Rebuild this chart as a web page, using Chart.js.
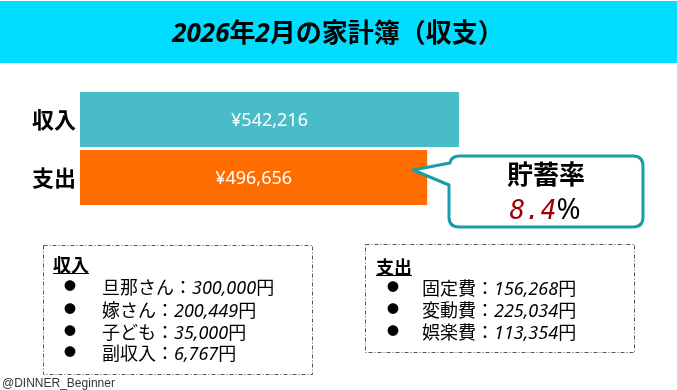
<!DOCTYPE html>
<html><head><meta charset="utf-8">
<script src="https://cdn.jsdelivr.net/npm/chart.js@4.4.1/dist/chart.umd.min.js"></script>
<style>
html,body{margin:0;padding:0;background:#fff;}
#wrap{position:relative;width:677px;height:390px;overflow:hidden;font-family:"Noto Sans","Noto Sans CJK JP",sans-serif;}
#band{position:absolute;left:0;top:1px;width:677px;height:62px;background:#00DDFF;}
canvas{position:absolute;left:0;top:0;}
#overlay{position:absolute;left:0;top:0;}
.t{position:absolute;white-space:nowrap;line-height:1;color:#000;}
</style></head><body>
<div id="wrap">
<div id="band"></div>
<canvas id="c" width="677" height="390"></canvas>
<svg id="overlay" width="677" height="390" xmlns="http://www.w3.org/2000/svg">
  <rect x="43.5" y="245.5" width="269" height="129" fill="none" stroke="#555" stroke-width="1" stroke-dasharray="4,2,1,2"/>
  <rect x="365.5" y="244.5" width="269" height="108" fill="none" stroke="#555" stroke-width="1" stroke-dasharray="4,2,1,2"/>
  <path d="M413,170 L450,163 Q451,156 460,156 L633,156 Q643,156 643,166 L643,217 Q643,227 633,227 L459,227 Q449,227 449,217 L449,185 Z" fill="#fff" stroke="#179EA8" stroke-width="3" stroke-linejoin="round"/>
</svg>
<div id="texts"></div>
</div>
<script>
const titleText = ['2026', '年', '2', '月の家計簿（収支）'];
const categories = ['収入', '支出'];
const totals = [542216, 496656];
const incomeLabels = ['旦那さん', '嫁さん', '子ども', '副収入'];
const incomeValues = [300000, 200449, 35000, 6767];
const expenseLabels = ['固定費', '変動費', '娯楽費'];
const expenseValues = [156268, 225034, 113354];
const savingsRate = '8.4';
const footerText = '@DINNER_Beginner';

const barColors = ['#48BCC7', '#FF6D00'];

const valueLabelPlugin = {
  id: 'valueLabels',
  afterDatasetsDraw(chart) {
    const ctx = chart.ctx;
    const meta = chart.getDatasetMeta(0);
    ctx.save();
    ctx.font = '18px "Noto Sans","Noto Sans CJK JP",sans-serif';
    ctx.fillStyle = '#fff';
    ctx.textAlign = 'center';
    ctx.textBaseline = 'middle';
    meta.data.forEach((bar, i) => {
      const x = (bar.base + bar.x) / 2;
      ctx.fillText('¥' + totals[i].toLocaleString('en-US'), x, bar.y + 1);
    });
    ctx.restore();
  }
};

new Chart(document.getElementById('c'), {
  type: 'bar',
  data: {
    labels: categories,
    datasets: [{
      data: totals,
      backgroundColor: barColors,
      borderWidth: 0,
      categoryPercentage: 1,
      barPercentage: 0.948
    }]
  },
  options: {
    indexAxis: 'y',
    responsive: false,
    animation: false,
    devicePixelRatio: 1,
    layout: { padding: { top: 90.5, bottom: 183.5, left: 0, right: 177.6 } },
    plugins: { legend: { display: false }, tooltip: { enabled: false }, title: { display: false } },
    scales: {
      x: { display: false, min: 0, max: 600000 },
      y: {
        grid: { display: false, drawTicks: false },
        border: { display: false },
        ticks: { color: '#000', padding: 4, font: { family: '"Noto Sans CJK JP","Noto Sans",sans-serif', size: 22, weight: 'bold' } },
        afterFit(scale) { scale.width = 80; }
      }
    }
  },
  plugins: [valueLabelPlugin]
});

const T = document.getElementById('texts');
function addText(html, left, cy, size, opts = {}) {
  const d = document.createElement('div');
  d.className = 't';
  d.innerHTML = html;
  d.style.fontSize = size + 'px';
  d.style.top = (cy - size / 2) + 'px';
  d.style.left = left + 'px';
  if (opts.center) d.style.transform = 'translateX(-50%)';
  if (opts.bold) d.style.fontWeight = 'bold';
  if (opts.style) Object.assign(d.style, opts.style);
  T.appendChild(d);
  return d;
}
// title
addText('<i>' + titleText[0] + '</i>' + titleText[1] + '<i>' + titleText[2] + '</i>' + titleText[3], 338, 32, 26, { center: true, bold: true });
// callout
addText('貯蓄率', 546, 174, 26, { center: true, bold: true });
addText('<span style="font-family:\'DejaVu Sans Mono\',monospace;font-style:italic;color:#A00000;font-size:26px">' + savingsRate + '</span><span style="font-size:29px">%</span>', 545, 207, 28, { center: true });
// income box
addText('収入', 53, 265, 18, { bold: true, style: { textDecoration: 'underline' } });
const incY = [287, 310, 332, 353];
incomeLabels.forEach((l, i) => {
  addText('●', 70, incY[i], 12, { center: true });
  addText(l + '：<i>' + incomeValues[i].toLocaleString('en-US') + '</i>円', 102, incY[i], 18);
});
// expense box
addText('支出', 376, 267, 18, { bold: true, style: { textDecoration: 'underline' } });
const expY = [288, 310, 332];
expenseLabels.forEach((l, i) => {
  addText('●', 393, expY[i], 12, { center: true });
  addText(l + '：<i>' + expenseValues[i].toLocaleString('en-US') + '</i>円', 422, expY[i], 18);
});
// footer
addText(footerText, 2, 383, 12, { style: { fontFamily: '"Liberation Sans",Arial,sans-serif', color: '#333' } });
</script>
</body></html>
